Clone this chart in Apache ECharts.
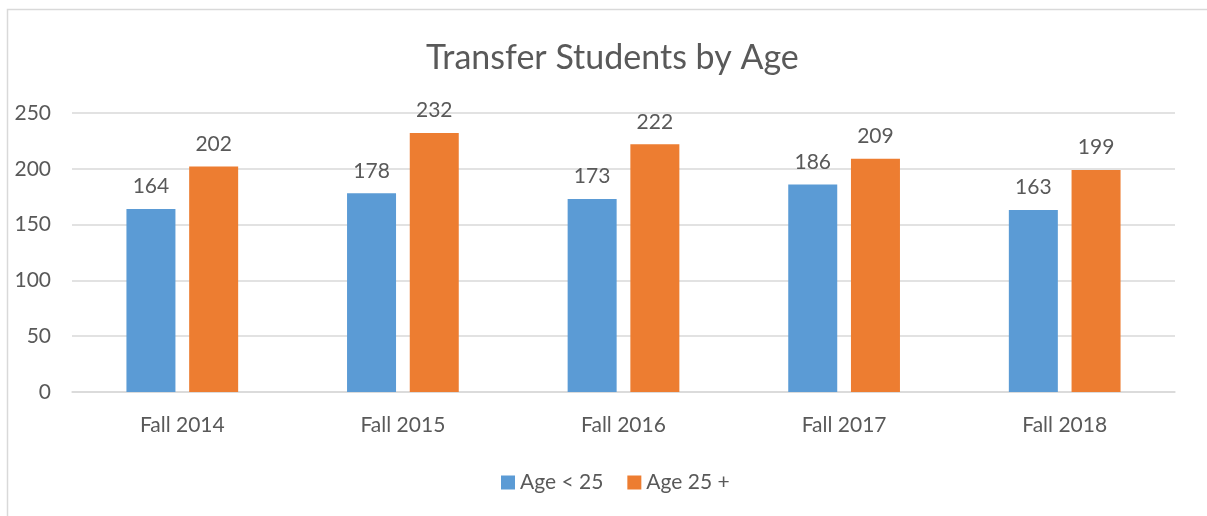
<!DOCTYPE html>
<html>
<head>
<meta charset="utf-8">
<script src="https://cdn.jsdelivr.net/npm/echarts@6/dist/echarts.min.js"></script>
<style>html,body{margin:0;padding:0;background:#fff}#c{width:1207px;height:516px}</style>
</head>
<body>
<div id="c"></div>
<script>
const categories = ['Fall 2014', 'Fall 2015', 'Fall 2016', 'Fall 2017', 'Fall 2018'];
const under25 = [164, 178, 173, 186, 163];
const over25 = [202, 232, 222, 209, 199];
const seriesNames = ['Age < 25', 'Age 25 +'];
const yTicks = [0, 50, 100, 150, 200, 250];

const font = 'Lato, Open Sans, sans-serif';
const textColor = '#595959';
const chart = echarts.init(document.getElementById('c'), null, {renderer: 'canvas'});
chart.setOption({
  animation: false,
  backgroundColor: '#fff',
  graphic: [{
    type: 'rect', shape: {x: 7.5, y: 9.5, width: 1220, height: 520},
    style: {fill: 'none', stroke: '#d9d9d9', lineWidth: 1.5}, silent: true
  }],
  title: {
    text: 'Transfer Students by Age', left: 421, top: 36,
    textStyle: {fontFamily: font, fontSize: 34, fontWeight: 'normal', color: textColor}
  },
  legend: {
    bottom: 18, left: 496, itemWidth: 14, itemHeight: 14, itemGap: 24,
    icon: 'rect',
    textStyle: {fontFamily: font, fontSize: 21, color: textColor},
    data: seriesNames
  },
  grid: {left: 72, right: 32, top: 113, bottom: 124, containLabel: false},
  xAxis: {
    type: 'category', data: categories,
    axisLine: {lineStyle: {color: '#d9d9d9', width: 1.5}},
    axisTick: {show: false},
    axisLabel: {fontFamily: font, fontSize: 21, color: textColor, margin: 23}
  },
  yAxis: {
    type: 'value', min: yTicks[0], max: yTicks[yTicks.length - 1], interval: 50,
    axisLine: {show: false}, axisTick: {show: false},
    splitLine: {lineStyle: {color: '#d9d9d9', width: 1.5}},
    axisLabel: {fontFamily: font, fontSize: 21, color: textColor, margin: 21}
  },
  series: [
    {
      name: seriesNames[0], type: 'bar', data: under25, barWidth: 49, barGap: '28%',
      itemStyle: {color: '#5b9bd5'},
      label: {show: true, position: 'top', distance: 12, fontFamily: font, fontSize: 21, color: textColor}
    },
    {
      name: seriesNames[1], type: 'bar', data: over25, barWidth: 49,
      itemStyle: {color: '#ed7d31'},
      label: {show: true, position: 'top', distance: 12, fontFamily: font, fontSize: 21, color: textColor}
    }
  ]
});
</script>
</body>
</html>
